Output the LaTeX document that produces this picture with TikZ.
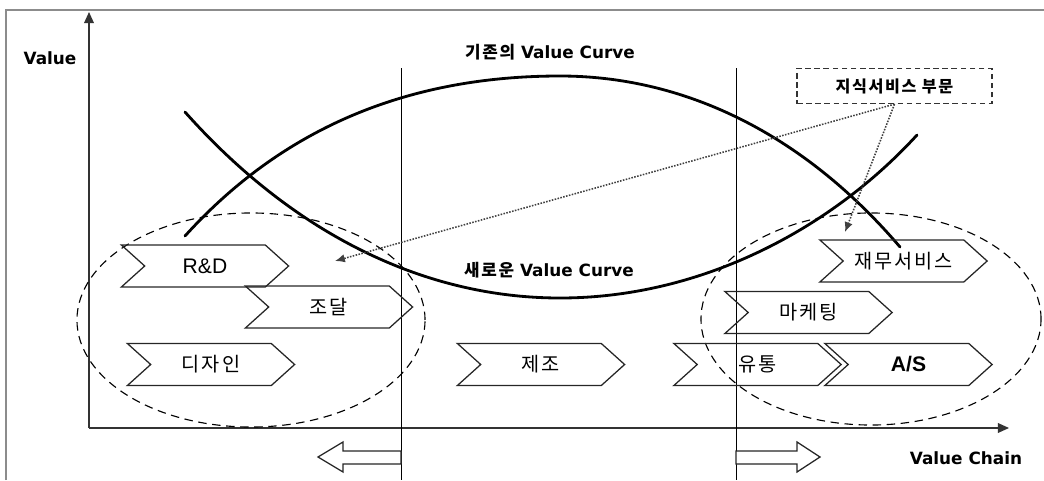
\documentclass[tikz,border=0pt]{standalone}
\usepackage{fontspec}
\setmainfont{Liberation Sans}
\newfontfamily\krfont{Noto Sans CJK KR}[LetterSpace=10]
\newfontfamily\labfont{DejaVu Sans}
\usetikzlibrary{arrows.meta, shapes.symbols, positioning}

\begin{document}
\begin{tikzpicture}[x=0.025cm, y=-0.025cm,
  stage/.style={signal, signal to=east, signal from=west, signal pointer angle=84,
                draw=black!85, line width=0.9pt, minimum width=4.18cm, minimum height=1.05cm,
                inner sep=0pt, font=\krfont\fontsize{14}{16}\selectfont},
  lab/.style={font=\labfont\bfseries\fontsize{12}{14}\selectfont},
  vcurve/.style={line width=2pt, line cap=round},
  group/.style={dash pattern=on 6pt off 4pt, line width=0.8pt},
  hint/.style={densely dotted, line width=1.1pt, black!75, -{Latex[length=7pt,width=6pt]}},
  axisline/.style={line width=0.9pt, black!80, -{Triangle[length=8pt,width=7pt]}},
  divider/.style={line width=0.7pt},
  hollow/.style={draw=black!85, line width=0.9pt, fill=white}
]
\useasboundingbox (0,0) rectangle (1044,480);

% frame
\draw[black!45, line width=1.5pt] (6,480) -- (6,10) -- (1044,10);

% axes
\coordinate (o) at (89,428);
\coordinate (ytop) at (89,12);
\coordinate (xend) at (1009,428);
\draw[axisline] (o) -- (ytop);
\draw[axisline] (o) -- (xend);

% borders of the middle part
\draw[divider] (401,68) -- (401,480);
\draw[divider] (736,68) -- (736,480);

% groups
\draw[group] (251,320) ellipse [x radius=4.35cm, y radius=2.675cm];
\draw[group] (871,319) ellipse [x radius=4.25cm, y radius=2.65cm];

% value curves
\draw[vcurve] (185,236) .. controls (290,120) and (420,76) .. (560,76)
  .. controls (680,76) and (800,130) .. (900,247);
\draw[vcurve] (185,112) .. controls (290,230) and (420,298) .. (560,298)
  .. controls (700,298) and (830,230) .. (917,135);

% labels
\node[lab] (valab) at (50,58) {Value};
\node[lab] (oldc) at (550,52) {{\krfont\bfseries 기존의} Value Curve};
\node[lab] (newc) at (549,270) {{\krfont\bfseries 새로운} Value Curve};
\node[lab] (chain) at (966,458) {Value Chain};

% activities
\node[stage, font=\fontsize{15}{17}\selectfont] (rnd) at (205,266) {R\&D};
\node[stage] (proc)   at (329,307)   {조달};
\node[stage] (design) at (211,364.5) {디자인};
\node[stage] (manuf)  at (541,364.5) {제조};
\node[stage] (dist)   at (757.5,364.5) {유통};
\node[stage, font=\bfseries\fontsize{15}{17}\selectfont] (after) at (908.5,364.5) {A/S};
\node[stage] (mkt)    at (808.5,312.5) {마케팅};
\node[stage] (fin)    at (903.5,261)   {재무서비스};

% knowledge service box
\node[draw=black!80, dash pattern=on 4pt off 2.5pt, line width=0.9pt, minimum width=4.875cm,
      minimum height=0.875cm, inner sep=0pt, font=\krfont\bfseries\fontsize{11.5}{13}\selectfont]
  (kbox) at (894.5,86) {지식서비스 부문};
\coordinate (tipL) at (335,261);
\coordinate (tipR) at (845,232);
\draw[hint] (kbox.south) -- (tipL);
\draw[hint] (kbox.south) -- (tipR);

% shift arrows
\draw[hollow] (401,451) -- (343,451) -- (343,442) -- (318,457) -- (343,472) -- (343,464) -- (401,464) -- cycle;
\draw[hollow] (736,451) -- (797,451) -- (797,442) -- (820,457) -- (797,472) -- (797,464) -- (736,464) -- cycle;

\end{tikzpicture}
\end{document}
